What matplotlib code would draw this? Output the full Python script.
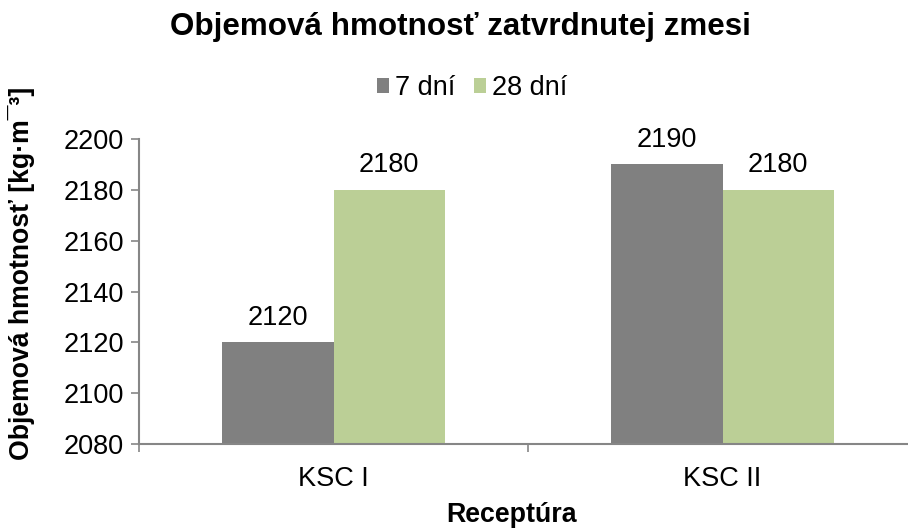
import matplotlib.pyplot as plt
import numpy as np

plt.rcParams['font.family'] = ['Liberation Sans', 'DejaVu Sans']

categories = ["KSC I", "KSC II"]
series_names = ["7 dní", "28 dní"]
values_7 = [2120, 2190]
values_28 = [2180, 2180]
y_ticks = [2080, 2100, 2120, 2140, 2160, 2180, 2200]

colors = ["#808080", "#BBCF96"]
axis_color = "#868686"
fs = 19.5

fig = plt.figure(figsize=(9.08, 5.30), dpi=100)
# axes runs a little past the right edge of the figure
ax = fig.add_axes([139 / 908, 86 / 530, 778 / 908, 305 / 530])

x = np.arange(len(categories))
width = 1 / 3.5
for i, (vals, name) in enumerate(zip([values_7, values_28], series_names)):
    b = ax.bar(x + (i - 0.5) * width, vals, width, color=colors[i], label=name,
               zorder=2)
    for rect, v in zip(b, vals):
        ax.text(rect.get_x() + rect.get_width() / 2, v + 4.5, f"{v}",
                ha="center", va="bottom", fontsize=fs)

ax.set_xlim(-0.5, 1.5)
ax.set_ylim(2080, 2200)
ax.set_yticks(y_ticks)
ax.tick_params(axis="y", labelsize=fs, length=6, width=1.2, color=axis_color,
               pad=5)
# category ticks sit between the groups
ax.set_xticks([-0.5, 0.5, 1.5])
ax.set_xticklabels([])
ax.set_xticks(x, minor=True)
ax.set_xticklabels(categories, minor=True, fontsize=fs)
ax.tick_params(axis="x", which="major", length=6, width=1.2, color=axis_color)
ax.tick_params(axis="x", which="minor", length=0, pad=16)

for side in ["top", "right"]:
    ax.spines[side].set_visible(False)
for side in ["left", "bottom"]:
    ax.spines[side].set_color(axis_color)
    ax.spines[side].set_linewidth(1.5)

fig.text(512 / 908, 1 - 515 / 530, "Receptúra", ha="center", va="center",
         fontsize=19.3, fontweight="bold")
fig.text(22 / 908, 1 - 273 / 530, "Objemová hmotnosť [kg·m¯³]", rotation=90,
         ha="center", va="center", fontsize=19.2, fontweight="bold")
fig.text(460 / 908, 1 - 27 / 530, "Objemová hmotnosť zatvrdnutej zmesi",
         ha="center", va="center", fontsize=22.6, fontweight="bold")

fig.legend(loc="center", bbox_to_anchor=(472 / 908, 1 - 88 / 530), ncol=2,
           frameon=False, fontsize=fs, handlelength=0.45, handleheight=0.45,
           handletextpad=0.2, columnspacing=0.7, borderaxespad=0)

fig.savefig("out.png", dpi=100)
